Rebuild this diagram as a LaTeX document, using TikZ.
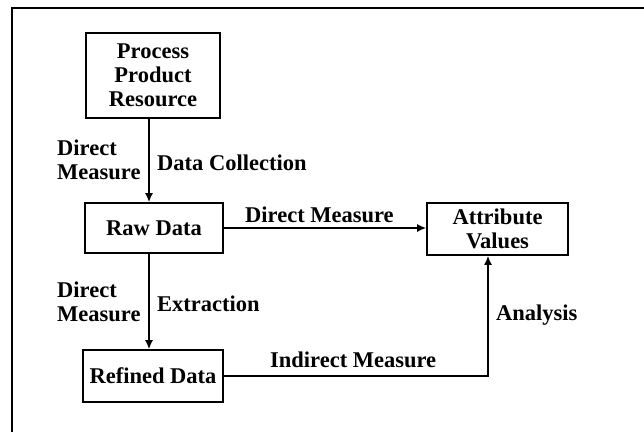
\documentclass[tikz,border=0pt]{standalone}
\usepackage{fontspec}
\setmainfont{Liberation Serif}
\usetikzlibrary{arrows.meta}
\begin{document}
\begin{tikzpicture}[x=1pt,y=-1pt,
  txt/.style={font=\fontsize{22.5}{24}\selectfont\bfseries, inner sep=0pt},
  box/.style={txt, draw, line width=1.6pt, align=center, minimum width=#1},
  conn/.style={line width=1.6pt, -{Latex[length=9pt,width=8pt]}},
  lbl/.style={txt, align=left}]
\useasboundingbox (0,0) rectangle (644,432);
% outer frame (top and left sides only)
\draw[line width=2.2pt] (12,432) -- (12,8) -- (644,8);

% boxes
\node[box=134pt, minimum height=85pt] (proc) at (153,75.5) {Process\\Product\\Resource};
\node[box=138pt, minimum height=50pt] (raw) at (154,228) {Raw Data};
\node[box=140pt, minimum height=52pt] (ref) at (153,376) {Refined Data};
\node[box=141pt, minimum height=52pt] (attr) at (497.5,229) {Attribute\\Values};

% connectors
\draw[conn] ([xshift=-4pt]proc.south) -- ([xshift=-5pt]raw.north);
\draw[conn] ([xshift=-5pt]raw.south) -- ([xshift=-4pt]ref.north);
\draw[conn] (raw.east) -- (raw.east -| attr.west);
\draw[conn] (ref.east) -| ([xshift=-9.5pt]attr.south);

% labels
\node[lbl, anchor=west] (dm1) at (57,160) {Direct\\Measure};
\node[txt, anchor=base west] (dc) at (157,170) {Data Collection};
\node[txt, anchor=base west] (dm2) at (245,222) {Direct Measure};
\node[lbl, anchor=west] (dm3) at (57,302) {Direct\\Measure};
\node[txt, anchor=base west] (ex) at (157,311) {Extraction};
\node[txt, anchor=base west] (im) at (270,367) {Indirect Measure};
\node[txt, anchor=base west] (an) at (496,320) {Analysis};
\end{tikzpicture}
\end{document}
